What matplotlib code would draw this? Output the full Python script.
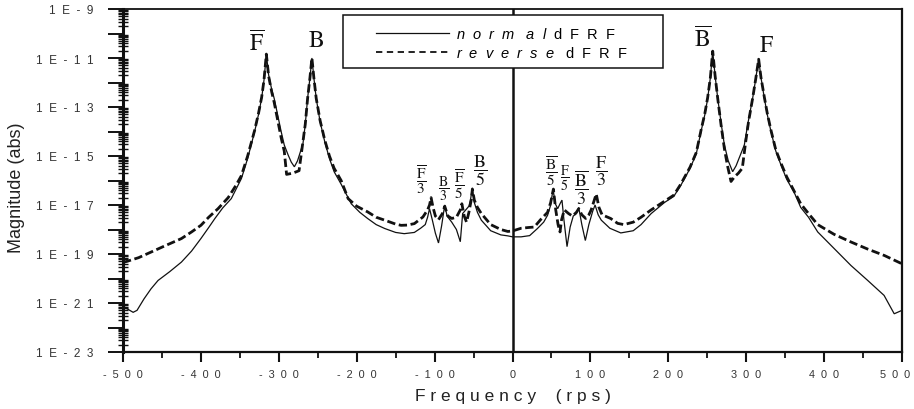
import numpy as np
import matplotlib
matplotlib.use("Agg")
import matplotlib.pyplot as plt
from matplotlib.ticker import FixedLocator, FuncFormatter, MultipleLocator, NullFormatter
from matplotlib.patches import Rectangle
from matplotlib.lines import Line2D
from matplotlib.transforms import ScaledTranslation

plt.rcParams['font.family'] = ['Liberation Sans', 'DejaVu Sans']
plt.rcParams['mathtext.fontset'] = 'custom'
plt.rcParams['mathtext.rm'] = 'Liberation Sans'
plt.rcParams['mathtext.it'] = 'Liberation Sans:italic'

# ---- directional FRF data: frequency (rps) and log10 of magnitude ----
freq_normal = [
    -500, -494, -487, -482, -473, -464, -455, -440, -425, -412, -400, -390,
    -382, -372, -361, -348, -340, -331, -326, -322, -319, -316, -313, -309,
    -306, -301, -297, -293, -288, -284, -280, -276, -272, -269, -266, -263,
    -260, -257.5, -255, -252, -247, -241, -235, -229, -220, -207, -196, -186,
    -175, -164, -150, -139, -126, -118, -112, -109, -106.5, -103, -99, -95,
    -91, -87, -84, -78, -72, -67, -64, -60, -56, -54, -51.5, -49, -45, -40,
    -28, -15, -6, 0, 11, 22, 32, 40, 45, 49, 52, 55, 58, 61, 63.5, 66, 70,
    74, 78, 82, 85, 89, 93.5, 98, 103, 106, 110, 114, 125, 139, 155, 165,
    178, 195, 207, 216, 228, 236, 242, 247, 250.6, 254, 257, 260, 263.4, 268,
    272, 277, 282.6, 287, 292, 297.6, 302, 308.3, 312, 316, 319, 323.3, 327,
    331.8, 338, 344.7, 352, 361.8, 370, 380, 391.8, 413, 434.5, 456, 477,
    490, 500,
]
log_mag_normal = [
    -21.12, -21.25, -21.38, -21.3, -20.83, -20.42, -20.08, -19.72, -19.33,
    -18.88, -18.37, -17.92, -17.55, -17.12, -16.74, -15.92, -15.1, -14.0,
    -13.3, -12.64, -11.9, -10.84, -11.7, -12.3, -12.64, -13.4, -14.0, -14.55,
    -14.96, -15.25, -15.44, -15.2, -14.8, -14.5, -13.7, -12.64, -11.8, -11.0,
    -11.8, -12.64, -13.6, -14.42, -15.1, -15.64, -16.15, -16.95, -17.3,
    -17.55, -17.8, -17.96, -18.12, -18.17, -18.12, -17.95, -17.8, -17.5,
    -17.15, -17.6, -18.15, -18.55, -17.85, -17.0, -17.45, -17.7, -18.0,
    -18.5, -17.35, -17.2, -17.05, -16.8, -16.3, -16.9, -17.3, -17.62, -18.05,
    -18.22, -18.26, -18.3, -18.3, -18.25, -17.96, -17.7, -17.42, -17.0,
    -16.35, -16.95, -17.15, -16.95, -16.8, -17.6, -18.7, -17.9, -17.45,
    -17.35, -17.1, -17.8, -18.45, -17.8, -17.25, -17.0, -17.4, -17.62,
    -17.95, -18.14, -18.05, -17.8, -17.35, -16.9, -16.65, -16.2, -15.5,
    -14.9, -14.0, -13.3, -12.64, -11.8, -10.72, -11.7, -12.64, -13.7, -14.55,
    -15.2, -15.64, -15.4, -15.0, -14.55, -13.7, -12.64, -11.9, -11.05, -11.8,
    -12.64, -13.3, -14.0, -14.8, -15.37, -15.95, -16.5, -17.1, -17.5, -18.1,
    -18.78, -19.47, -20.08, -20.69, -21.44, -21.3,
]

freq_reverse = [
    -500, -480, -464, -445, -425, -412, -400, -390, -378, -365, -355, -348,
    -340, -331, -326, -322, -319, -316, -313, -309, -306, -301, -297, -293,
    -290, -282, -274, -271, -266, -263, -260, -257.5, -255, -252, -247, -241,
    -235, -229, -220, -211, -200, -186, -175, -164, -150, -143, -135, -126,
    -115, -109, -106.5, -104.5, -102, -99, -95, -90, -87, -83, -78, -72, -67,
    -65, -62, -59, -56, -53, -51.5, -49, -45, -40, -28, -15, -6, 0, 11, 20,
    28, 36, 45, 49, 52.5, 55.5, 58.5, 61, 63, 66.5, 72, 77, 82, 85, 89, 94,
    98, 101, 104, 107.5, 111, 115, 126, 135, 143, 155, 165, 178, 195, 207,
    216, 228, 236, 242, 247, 250.6, 254, 257, 260, 263.4, 268, 272, 276,
    280.5, 285, 290, 295, 299, 303, 308.3, 312, 316, 319, 323.3, 327, 331.8,
    338, 344.7, 352, 361.8, 370, 380, 391.8, 413, 434.5, 456, 477.3, 500,
]
log_mag_reverse = [
    -19.35, -19.15, -18.92, -18.65, -18.37, -18.1, -17.83, -17.5, -17.15,
    -16.7, -16.2, -15.8, -15.0, -13.95, -13.25, -12.6, -11.9, -10.84, -11.75,
    -12.4, -12.8, -13.6, -14.25, -14.8, -15.75, -15.7, -15.6, -14.9, -13.7,
    -12.64, -11.8, -11.0, -11.8, -12.64, -13.55, -14.35, -15.0, -15.5, -16.0,
    -16.74, -17.05, -17.28, -17.5, -17.62, -17.78, -17.83, -17.82, -17.76,
    -17.49, -17.2, -17.0, -16.7, -17.1, -17.45, -17.6, -17.35, -17.05,
    -17.45, -17.55, -17.5, -17.2, -16.95, -17.45, -17.7, -17.3, -16.8,
    -16.35, -16.8, -17.1, -17.35, -17.8, -18.0, -18.08, -18.06, -17.95,
    -17.92, -17.9, -17.6, -17.3, -16.9, -16.35, -17.2, -17.8, -18.1, -17.6,
    -17.2, -17.35, -17.45, -17.3, -17.15, -17.4, -17.55, -17.4, -17.2, -16.9,
    -16.55, -17.1, -17.4, -17.55, -17.75, -17.8, -17.7, -17.5, -17.2, -16.85,
    -16.6, -16.15, -15.45, -14.85, -13.95, -13.25, -12.6, -11.8, -10.72,
    -11.7, -12.64, -13.8, -14.7, -15.4, -16.04, -15.85, -15.7, -15.5, -14.5,
    -13.6, -12.64, -11.9, -11.05, -11.8, -12.6, -13.25, -13.95, -14.75, -15.3,
    -15.85, -16.45, -16.95, -17.35, -17.8, -18.2, -18.51, -18.8, -19.06,
    -19.4,
]

# ---- mode labels: text, frequency, log10 height, font size ----
mode_text = [r'$\overline{\mathrm{F}}$', r'$\mathrm{B}$',
             r'$\overline{\mathrm{B}}$', r'$\mathrm{F}$',
             r'$\dfrac{\overline{\mathrm{F}}}{3}$', r'$\dfrac{\mathrm{B}}{3}$',
             r'$\dfrac{\overline{\mathrm{F}}}{5}$', r'$\dfrac{\mathrm{B}}{5}$',
             r'$\dfrac{\overline{\mathrm{B}}}{5}$', r'$\dfrac{\mathrm{F}}{5}$',
             r'$\dfrac{\overline{\mathrm{B}}}{3}$', r'$\dfrac{\mathrm{F}}{3}$']
mode_freq = [-329, -252, 244, 326, -117.5, -88.6, -68.7, -42,
             49.4, 67.4, 88, 113.2]
mode_logmag = [-10.39, -10.25, -10.23, -10.46, -15.92, -16.29, -16.12,
               -15.55, -15.58, -15.88, -16.25, -15.57]
mode_size = [17, 17, 17, 17, 11, 10, 11, 13, 11, 10, 13, 13]

x_ticks = [-500, -400, -300, -200, -100, 0, 100, 200, 300, 400, 500]
y_decades = list(range(-23, -8))

ink = '#111111'

fig = plt.figure(figsize=(9.14, 4.10), dpi=100)
ax = fig.add_axes([123 / 914, 1 - 353 / 410, 779 / 914, 343 / 410])

ax.plot(freq_normal, 10.0 ** np.array(log_mag_normal), color=ink,
        lw=0.9, solid_joinstyle='miter')
ax.plot(freq_reverse, 10.0 ** np.array(log_mag_reverse), color=ink,
        lw=2.0, linestyle=(0, (3.0, 1.3)))
ax.axvline(0, color=ink, lw=1.8)

ax.set_yscale('log')
ax.set_xlim(-500, 500)
ax.set_ylim(1e-23, 1e-9)

for sp in ax.spines.values():
    sp.set_color(ink)
ax.spines['left'].set_linewidth(2.2)
ax.spines['bottom'].set_linewidth(1.6)
ax.spines['top'].set_linewidth(1.3)
ax.spines['right'].set_linewidth(1.6)


def spaced(s, gap='  '):
    return gap.join(s)


ax.xaxis.set_major_locator(FixedLocator(x_ticks))
ax.xaxis.set_minor_locator(MultipleLocator(50))
ax.xaxis.set_major_formatter(FuncFormatter(lambda v, p: spaced(str(int(round(v))))))

ax.yaxis.set_major_locator(FixedLocator([10.0 ** e for e in y_decades]))
minor_pos = [m * 10.0 ** e for e in y_decades[:-1] for m in range(2, 10)]
ax.yaxis.set_minor_locator(FixedLocator(minor_pos))
ax.yaxis.set_minor_formatter(NullFormatter())


def ylab(v, p):
    e = int(round(np.log10(v)))
    if e % 2 == 0:
        return ''
    return spaced('1E' + str(e))


ax.yaxis.set_major_formatter(FuncFormatter(ylab))

ax.tick_params(axis='x', which='major', direction='out', length=7, width=1.5,
               labelsize=7.8, pad=5, colors=ink, labelcolor='#333333')
ax.tick_params(axis='x', which='minor', direction='out', length=4, width=1.3,
               colors=ink)
ax.tick_params(axis='y', which='major', direction='out', length=11, width=1.4,
               labelsize=8.5, pad=10, colors=ink, labelcolor='#333333')
ax.tick_params(axis='y', which='minor', direction='inout', length=7, width=1.0,
               colors=ink)

ax.set_xlabel(spaced('Frequency', ' ') + '    ' + spaced('(rps)', ' '),
              fontsize=12.5, color='#222222')
ax.xaxis.set_label_coords(0.5, (353 - 397) / 343)
ax.xaxis.label.set_va('center')
ax.set_ylabel('Magnitude (abs)', fontsize=13, color='#222222')
ax.yaxis.set_label_coords((17 - 123) / 779, (353 - 188) / 343)
ax.yaxis.label.set_va('center')

for txt, f, lm, sz in zip(mode_text, mode_freq, mode_logmag, mode_size):
    ax.text(f, 10.0 ** lm, txt, fontsize=sz, ha='center', va='center',
            color=ink, math_fontfamily='stix')

# legend
box = Rectangle(((343 - 123) / 779, (353 - 69) / 343), 320 / 779, 53 / 343,
                transform=ax.transAxes, facecolor='white', edgecolor=ink,
                lw=1.1, zorder=4)
ax.add_patch(box)
handles = [Line2D([], [], color=ink, lw=0.9),
           Line2D([], [], color=ink, lw=1.3, linestyle=(0, (3.5, 2.5)))]
labels = [r'$\mathit{n\ \ o\ \ r\ \ m\ \ \ a\ \ l}\ \ \mathrm{d\ \ F\ \ R\ \ F}$',
          r'$\mathit{r\ \ e\ \ v\ \ e\ \ r\ \ s\ \ e}\ \ \ \mathrm{d\ \ F\ \ R\ \ F}$']
leg = ax.legend(handles, labels, loc='upper left',
                bbox_to_anchor=((366 - 123) / 779, (353 - 17) / 343),
                frameon=False, fontsize=10.5, handlelength=5.0,
                handletextpad=0.5, labelspacing=0.25, borderpad=0.2)
leg.set_zorder(5)

# keep the last frequency label inside the canvas
fig.canvas.draw()
last = ax.get_xticklabels()[-1]
last.set_transform(last.get_transform() + ScaledTranslation(-5 / 72, 0, fig.dpi_scale_trans))

fig.savefig('out.png', dpi=100)
